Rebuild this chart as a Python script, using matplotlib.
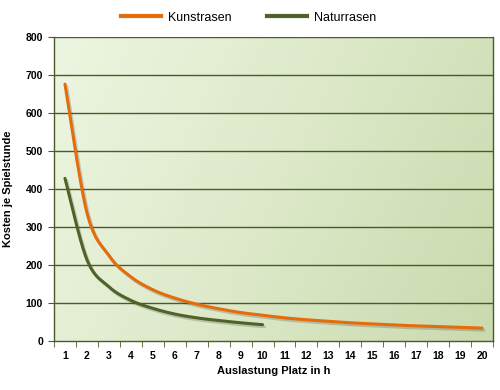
import numpy as np
import matplotlib
matplotlib.use("Agg")
import matplotlib.pyplot as plt
import matplotlib.patheffects as pe
from matplotlib.colors import LinearSegmentedColormap
from matplotlib.lines import Line2D

plt.rcParams['font.family'] = ['Liberation Sans', 'DejaVu Sans']

hours_kunst = list(range(1, 21))
kunstrasen = [676, 338, 225, 169, 135, 113, 97, 85, 75, 68,
              61, 56, 52, 48, 45, 42, 40, 38, 36, 34]
hours_natur = list(range(1, 11))
naturrasen = [428, 214, 143, 107, 86, 71, 61, 54, 48, 43]
x_labels = [str(i) for i in range(1, 21)]
y_ticks = [0, 100, 200, 300, 400, 500, 600, 700, 800]

ORANGE = '#e46c0a'
GREEN = '#4f6228'
GRID = '#4a5a2a'


def smooth(xs, ys, n=30):
    xs = np.asarray(xs, float)
    ys = np.asarray(ys, float)
    P = np.column_stack([xs, ys])
    P = np.vstack([P[0], P, P[-1]])
    out = []
    t = np.linspace(0, 1, n, endpoint=False)
    for i in range(1, len(P) - 2):
        p0, p1, p2, p3 = P[i - 1], P[i], P[i + 1], P[i + 2]
        c1 = p1 + (p2 - p0) / 6.0
        c2 = p2 - (p3 - p1) / 6.0
        tt = t[:, None]
        pts = ((1 - tt) ** 3) * p1 + 3 * ((1 - tt) ** 2) * tt * c1 + 3 * (1 - tt) * tt ** 2 * c2 + tt ** 3 * p2
        out.append(pts)
    out.append(P[-2][None, :])
    arr = np.vstack(out)
    return arr[:, 0], arr[:, 1]


fig = plt.figure(figsize=(5, 3.9), dpi=100)
ax = fig.add_axes([0.108, 0.1256, 0.878, 0.7795])

cmap = LinearSegmentedColormap.from_list('bg', ['#edf6e1', '#dde9c9', '#cadaae'])
gx, gy = np.meshgrid(np.linspace(0, 1, 200), np.linspace(0, 1, 200))
grad = 0.75 * gx + 0.25 * gy
ax.imshow(grad, cmap=cmap, extent=[0.5, 20.5, 0, 800], aspect='auto',
          origin='upper', zorder=0, interpolation='bilinear')

ax.set_xlim(0.5, 20.5)
ax.set_ylim(0, 800)

for yv in y_ticks[1:]:
    ax.axhline(yv, color=GRID, lw=1.0, zorder=1)

shadow = [pe.SimpleLineShadow(offset=(1.2, -1.5), alpha=0.22, shadow_color='#333333'), pe.Normal()]
xk, yk = smooth(hours_kunst, kunstrasen)
ax.plot(xk, yk, color=ORANGE, lw=2.2, solid_capstyle='round', zorder=3, path_effects=shadow)
xn, yn = smooth(hours_natur, naturrasen)
ax.plot(xn, yn, color=GREEN, lw=2.2, solid_capstyle='round', zorder=3, path_effects=shadow)

ax.set_yticks(y_ticks)
ax.set_yticklabels([str(v) for v in y_ticks], fontsize=7.5, fontweight='bold')
ax.set_xticks(range(1, 21))
ax.set_xticklabels(x_labels, fontsize=7.5, fontweight='bold')
ax.set_xticks(np.arange(0.5, 21, 1), minor=True)
ax.tick_params(axis='x', which='major', length=0, pad=7)
ax.tick_params(axis='x', which='minor', length=4, color=GRID, direction='out')
ax.tick_params(axis='y', length=4, color=GRID, direction='out', pad=4)

for s in ['left', 'bottom', 'right', 'top']:
    ax.spines[s].set_color(GRID)
    ax.spines[s].set_linewidth(1.0)
ax.spines['top'].set_visible(False)

ax.set_xlabel('Auslastung Platz in h', fontsize=8, fontweight='bold', labelpad=4)
ax.set_ylabel('Kosten je Spielstunde', fontsize=8, fontweight='bold', labelpad=9)

handles = [Line2D([], [], color=ORANGE, lw=3), Line2D([], [], color=GREEN, lw=3)]
fig.legend(handles, ['Kunstrasen', 'Naturrasen'], loc='center', bbox_to_anchor=(0.497, 0.955),
           ncol=2, frameon=False, fontsize=9, handlelength=3.2, columnspacing=2.8, handletextpad=0.6)

fig.savefig('out.png', dpi=100)
